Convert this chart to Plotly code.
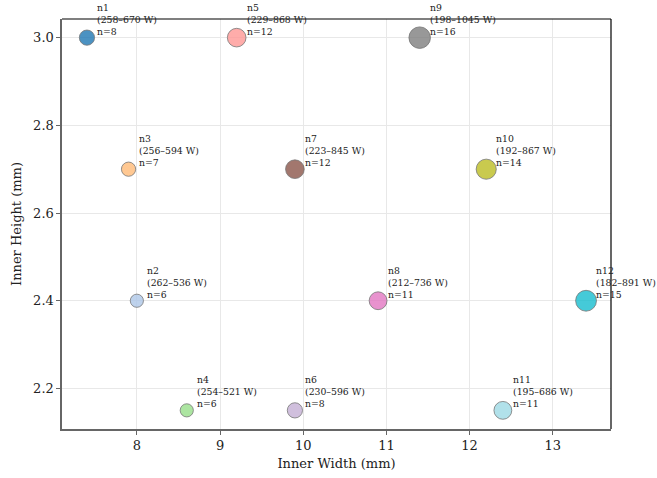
import math
import plotly.graph_objects as go

names = ["n1", "n2", "n3", "n4", "n5", "n6", "n7", "n8", "n9", "n10", "n11", "n12"]
inner_width = [7.4, 8.0, 7.9, 8.6, 9.2, 9.9, 9.9, 10.9, 11.4, 12.2, 12.4, 13.4]
inner_height = [3.0, 2.4, 2.7, 2.15, 3.0, 2.15, 2.7, 2.4, 3.0, 2.7, 2.15, 2.4]
counts = [8, 6, 7, 6, 12, 8, 12, 11, 16, 14, 11, 15]
power_min = [258, 262, 256, 254, 229, 230, 223, 212, 198, 192, 195, 182]
power_max = [670, 536, 594, 521, 868, 596, 845, 736, 1045, 867, 686, 891]
colors = ["#1f77b4", "#aec7e8", "#ffbb78", "#98df8a", "#ff9896", "#c5b0d5",
          "#8c564b", "#e377c2", "#7f7f7f", "#bcbd22", "#9edae5", "#17becf"]

x_ticks = [8, 9, 10, 11, 12, 13]
y_ticks = [2.2, 2.4, 2.6, 2.8, 3.0]

FONT = "DejaVu Serif"

# marker area proportional to count (matplotlib-style s = 15*n, pt^2 -> px diameter)
sizes = [math.sqrt(15 * n) * 100 / 72 for n in counts]

fig = go.Figure()
fig.add_trace(go.Scatter(
    x=inner_width, y=inner_height, mode="markers",
    marker=dict(size=sizes, color=colors, opacity=0.8,
                line=dict(color="#555555", width=0.8)),
    hoverinfo="skip", showlegend=False,
))

for nm, xv, yv, n, lo, hi in zip(names, inner_width, inner_height, counts, power_min, power_max):
    fig.add_annotation(
        x=xv, y=yv, xref="x", yref="y",
        text=f"{nm}<br>({lo}–{hi} W)<br>n={n}",
        showarrow=False, xanchor="left", yanchor="bottom", align="left",
        xshift=8, yshift=-1,
        font=dict(family=FONT, size=9.3, color="#222222"),
    )

# top and right spines (black)
fig.add_shape(type="line", xref="paper", yref="paper", x0=0, x1=1, y0=1, y1=1,
              line=dict(color="black", width=1.2), layer="above")
fig.add_shape(type="line", xref="paper", yref="paper", x0=1, x1=1, y0=0, y1=1,
              line=dict(color="black", width=1.2), layer="above")

axis_common = dict(
    showline=True, linecolor="#666666", linewidth=1.6,
    ticks="outside", ticklen=4, tickcolor="#666666", tickwidth=1,
    showgrid=True, gridcolor="#e8e8e8", gridwidth=1,
    zeroline=False, automargin=False,
    tickfont=dict(family=FONT, size=13, color="#222222"),
)

fig.update_xaxes(range=[7.1, 13.7], tickvals=x_ticks,
                 ticktext=[str(v) for v in x_ticks],
                 title=dict(text="Inner Width (mm)", font=dict(family=FONT, size=13, color="#222222"), standoff=6),
                 **axis_common)
fig.update_yaxes(range=[2.1075, 3.0425], tickvals=y_ticks,
                 ticktext=[f"{v:.1f}" for v in y_ticks],
                 title=dict(text="Inner Height (mm)", font=dict(family=FONT, size=13, color="#222222"), standoff=8),
                 **axis_common)

fig.update_layout(
    width=657, height=478,
    margin=dict(l=62, r=46, t=19, b=49),
    plot_bgcolor="white", paper_bgcolor="white",
    font=dict(family=FONT, color="#222222"),
)

fig.write_html(
    "out.html",
    config={"displayModeBar": False, "staticPlot": True},
    post_script="document.body.style.margin='0';document.body.style.overflow='hidden';",
)
